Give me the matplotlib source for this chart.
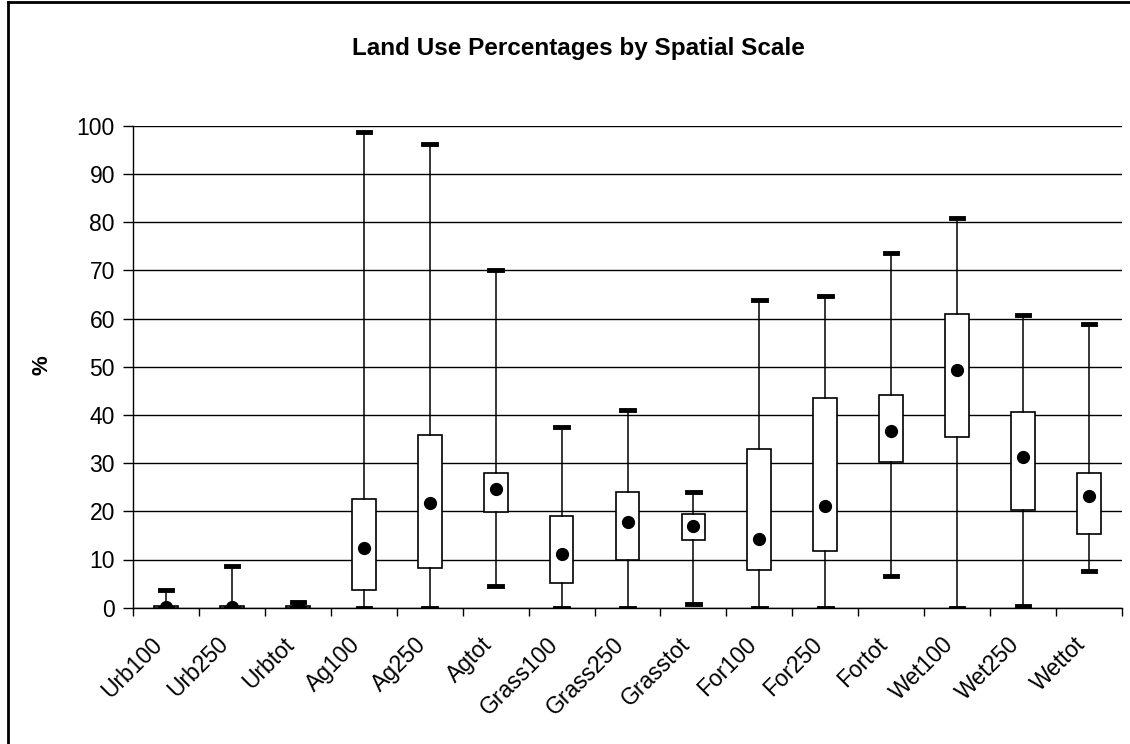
import matplotlib.pyplot as plt
import matplotlib.transforms as mtransforms
from matplotlib.lines import Line2D

cats = ["Urb100", "Urb250", "Urbtot", "Ag100", "Ag250", "Agtot",
        "Grass100", "Grass250", "Grasstot", "For100", "For250", "Fortot",
        "Wet100", "Wet250", "Wettot"]
mins = [0, 0, 0, 0, 0, 4.6, 0, 0, 0.7, 0, 0, 6.5, 0, 0.4, 7.6]
q1s = [0, 0, 0, 3.6, 8.3, 19.9, 5.1, 9.8, 14.1, 7.8, 11.7, 30.3, 35.4, 20.3, 15.2]
q3s = [0.4, 0.3, 0.4, 22.6, 35.8, 28.0, 19.1, 24.1, 19.4, 33.0, 43.5, 44.2, 60.9, 40.7, 28.0]
maxs = [3.6, 8.6, 1.2, 98.6, 96.3, 70.1, 37.5, 41.0, 24.0, 63.8, 64.6, 73.5, 80.8, 60.8, 58.8]
means = [0.2, 0.2, 0.2, 12.4, 21.7, 24.7, 11.2, 17.7, 17.0, 14.3, 21.2, 36.7, 49.4, 31.2, 23.2]


def main():
    plt.rcParams["font.family"] = ["Liberation Sans", "DejaVu Sans"]
    fig = plt.figure(figsize=(11.3, 7.44), dpi=100)
    ax = fig.add_axes([133 / 1130, 1 - 607.7 / 744, (1122 - 133) / 1130, (607.7 - 125.7) / 744])

    stats = []
    for c, lo, a, b, hi, m in zip(cats, mins, q1s, q3s, maxs, means):
        stats.append(dict(label=c, whislo=lo, q1=a, med=m, q3=b, whishi=hi, mean=m, fliers=[]))

    pos = list(range(len(cats)))
    ax.bxp(stats, positions=pos, widths=0.36, capwidths=0.19, showmeans=True,
           patch_artist=True,
           boxprops=dict(facecolor="white", edgecolor="black", linewidth=1.2),
           whiskerprops=dict(color="black", linewidth=1.1),
           capprops=dict(color="black", linewidth=3.5),
           medianprops=dict(linewidth=0),
           meanprops=dict(marker="o", markerfacecolor="black", markeredgecolor="black",
                          markersize=8.5),
           zorder=3)

    ax.set_xlim(-0.5, len(cats) - 0.5)
    ax.set_ylim(0, 100)
    ax.set_yticks(range(0, 101, 10))
    ax.yaxis.grid(True, color="black", linewidth=1)
    ax.set_axisbelow(True)
    ax.tick_params(axis="y", labelsize=16.5, length=7, width=1, direction="out", pad=6)
    ax.set_xticks(pos)
    ax.set_xticklabels(cats, rotation=45, ha="right", rotation_mode="anchor", fontsize=16.5)
    ax.tick_params(axis="x", length=0, pad=18)
    shift = mtransforms.ScaledTranslation(-15 / 100, 0, fig.dpi_scale_trans)
    for lab in ax.get_xticklabels():
        lab.set_transform(lab.get_transform() + shift)
    ax.set_xticks([i + 0.5 for i in range(-1, len(cats))], minor=True)
    ax.tick_params(axis="x", which="minor", length=6, width=1, direction="out")
    for s in ["top", "right"]:
        ax.spines[s].set_visible(False)
    ax.spines["left"].set_linewidth(1)
    ax.spines["bottom"].set_linewidth(1)

    ax.set_ylabel("%", fontsize=16, fontweight="bold")
    ax.yaxis.set_label_coords((52 - 133) / 989, (607.7 - 365) / 482)
    fig.text(0.512, 1 - 48 / 744, "Land Use Percentages by Spatial Scale",
             ha="center", va="center", fontsize=17.5, fontweight="bold")

    # chart border (only top and left visible)
    fig.add_artist(Line2D([8 / 1130, 8 / 1130], [0, 1 - 2 / 744], color="black", linewidth=2,
                          transform=fig.transFigure))
    fig.add_artist(Line2D([8 / 1130, 1], [1 - 2 / 744, 1 - 2 / 744], color="black", linewidth=2,
                          transform=fig.transFigure))

    fig.savefig("out.png", dpi=100)
    plt.close(fig)


if __name__ == "__main__":
    main()
